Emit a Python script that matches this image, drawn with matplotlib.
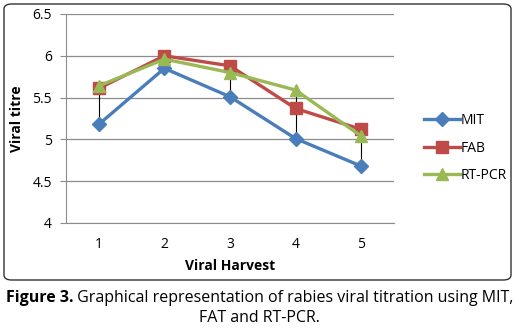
import matplotlib
matplotlib.use("Agg")
from matplotlib import pyplot as plt
from matplotlib.patches import FancyBboxPatch

harvests = [1, 2, 3, 4, 5]
mit = [5.18, 5.85, 5.51, 5.01, 4.68]
fab = [5.61, 6.00, 5.88, 5.37, 5.12]
rtpcr = [5.64, 5.96, 5.80, 5.59, 5.04]

series = [("MIT", mit, "#4A7EBB", "D", 7),
          ("FAB", fab, "#BE4B48", "s", 8),
          ("RT-PCR", rtpcr, "#98B954", "^", 8)]

plt.rcParams['font.family'] = ['Open Sans', 'DejaVu Sans']

fig = plt.figure(figsize=(5.19, 3.35), dpi=100)

# chart frame
frame = FancyBboxPatch((4 / 519, 1 - 280 / 335), 507 / 519, 276 / 335,
                       boxstyle="round,pad=0,rounding_size=0.015",
                       transform=fig.transFigure, fill=False,
                       edgecolor="#333333", linewidth=1.0)
fig.patches.append(frame)

ax = fig.add_axes([66 / 519, 1 - 223 / 335, 328 / 519, 209 / 335])

# high-low lines
for i, x in enumerate(harvests):
    vals = [mit[i], fab[i], rtpcr[i]]
    ax.plot([x, x], [min(vals), max(vals)], color="black", lw=0.8, zorder=2)

for name, vals, col, mk, ms in series:
    ax.plot(harvests, vals, color=col, lw=2.4, marker=mk, markersize=ms,
            label=name, zorder=3)

ax.set_xlim(0.5, 5.5)
ax.set_ylim(4, 6.5)
ax.set_yticks([4, 4.5, 5, 5.5, 6, 6.5])
ax.set_yticklabels(["4", "4.5", "5", "5.5", "6", "6.5"])
ax.set_xticks(harvests)
ax.yaxis.grid(True, color="#8c8c8c", lw=0.9)
ax.set_axisbelow(True)
for s in ["top", "right"]:
    ax.spines[s].set_visible(False)
ax.spines["left"].set_color("#8c8c8c")
ax.spines["bottom"].set_color("#8c8c8c")
ax.tick_params(axis="y", length=4, color="#8c8c8c", labelsize=10, pad=6)
ax.tick_params(axis="x", length=0, labelsize=10, pad=10)

ax.set_ylabel("Viral titre", fontsize=10, fontweight="bold", labelpad=6)
ax.set_xlabel("Viral Harvest", fontsize=10, fontweight="bold", labelpad=5)

fig.legend(loc="center left", bbox_to_anchor=(418 / 519, 1 - 148 / 335),
           frameon=False, fontsize=10, handlelength=2.6, handletextpad=0.1,
           labelspacing=0.9, borderaxespad=0)

# caption
fig.canvas.draw()
r = fig.canvas.get_renderer()
t1 = fig.text(0, 1 - 298 / 335, "Figure 3.", fontsize=11.5, fontweight="bold",
              va="center", ha="left")
t2 = fig.text(0, 1 - 298 / 335,
              " Graphical representation of rabies viral titration using MIT,",
              fontsize=11.5, va="center", ha="left")
w1 = t1.get_window_extent(r).width
w2 = t2.get_window_extent(r).width
x0 = (519 - w1 - w2) / 2
t1.set_x(x0 / 519)
t2.set_x((x0 + w1) / 519)
fig.text(0.5, 1 - 318 / 335, "FAT and RT-PCR.", fontsize=11.5,
         va="center", ha="center")

fig.savefig("out.png", dpi=100)
